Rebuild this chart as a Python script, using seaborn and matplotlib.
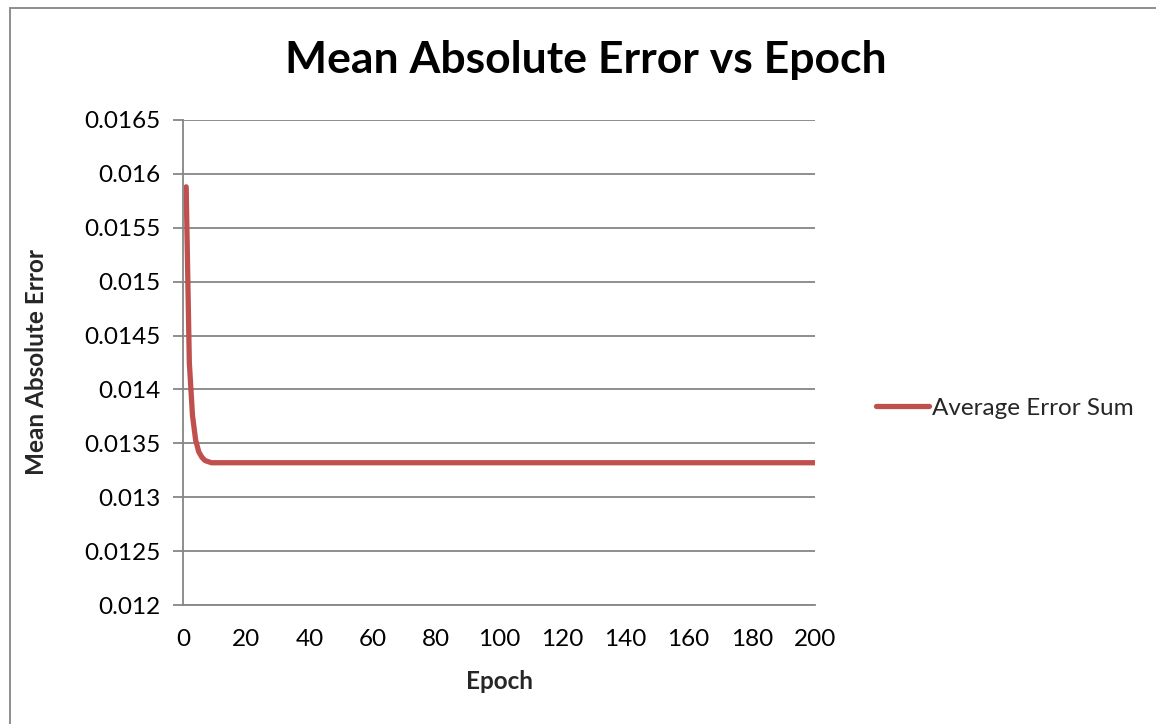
import matplotlib
matplotlib.use("Agg")
import matplotlib.pyplot as plt
import seaborn as sns
import pandas as pd
from matplotlib.patches import Rectangle

epochs = [1, 2, 3, 4, 5, 6, 7, 8, 9, 10, 20, 40, 60, 80, 100, 120, 140, 160, 180, 200]
mae = [0.01588, 0.01425, 0.01376, 0.01353, 0.01342, 0.01337, 0.01334, 0.01333, 0.01332, 0.01332,
       0.01332, 0.01332, 0.01332, 0.01332, 0.01332, 0.01332, 0.01332, 0.01332, 0.01332, 0.01332]
series_name = "Average Error Sum"
x_ticks = [0, 20, 40, 60, 80, 100, 120, 140, 160, 180, 200]
y_ticks = [0.012, 0.0125, 0.013, 0.0135, 0.014, 0.0145, 0.015, 0.0155, 0.016, 0.0165]
y_labels = ["0.012", "0.0125", "0.013", "0.0135", "0.014", "0.0145", "0.015", "0.0155", "0.016", "0.0165"]

df = pd.DataFrame({"Epoch": epochs, "MAE": mae, "Series": series_name})

sns.set_style("white")
plt.rcParams["font.family"] = ["Lato", "DejaVu Sans"]

fig = plt.figure(figsize=(11.56, 7.24), dpi=100)
W, H = 1156, 724
ax = fig.add_axes([183 / W, 1 - 605 / H, (815 - 183) / W, (605 - 120) / H])

grid_c = "#868686"
sns.lineplot(data=df, x="Epoch", y="MAE", hue="Series", palette=["#C0504D"],
             linewidth=3.8, ax=ax, legend=True, solid_capstyle="round", solid_joinstyle="round")

ax.set_xlim(0, 200)
ax.set_ylim(0.012, 0.0165)
ax.set_xticks(x_ticks)
ax.set_xticklabels([str(t) for t in x_ticks])
ax.set_yticks(y_ticks)
ax.set_yticklabels(y_labels)
ax.grid(axis="y", color=grid_c, linewidth=1.3)
ax.set_axisbelow(True)
for s in ["top", "right"]:
    ax.spines[s].set_visible(False)
for s in ["left", "bottom"]:
    ax.spines[s].set_color(grid_c)
    ax.spines[s].set_linewidth(1.3)
ax.tick_params(axis="y", length=7, width=1.3, color=grid_c, labelsize=17.5, pad=9, left=True,
               labelcolor="black")
ax.tick_params(axis="x", length=0, labelsize=17.5, pad=17, bottom=True, labelcolor="black")

ax.set_xlabel("Epoch", fontsize=17.5, fontweight="bold", labelpad=15)
ax.set_ylabel("Mean Absolute Error", fontsize=17.5, fontweight="bold", labelpad=26)

fig.text(586 / W, 1 - 60 / H, "Mean Absolute Error vs Epoch", ha="center", va="center",
         fontsize=32, fontweight="bold", color="black")

leg = ax.legend(loc="center left", bbox_to_anchor=(866 / W, 1 - 408 / H),
                bbox_transform=fig.transFigure, frameon=False, fontsize=17.5,
                handlelength=2.2, handletextpad=0.1, borderaxespad=0)
for line in leg.get_lines():
    line.set_linewidth(3.8)

fig.patches.append(Rectangle((10 / W, -0.05), 1.1, (1 - 8 / H) + 0.05, transform=fig.transFigure,
                             fill=False, edgecolor="#868686", linewidth=1.3))

fig.savefig("out.png", dpi=100)
